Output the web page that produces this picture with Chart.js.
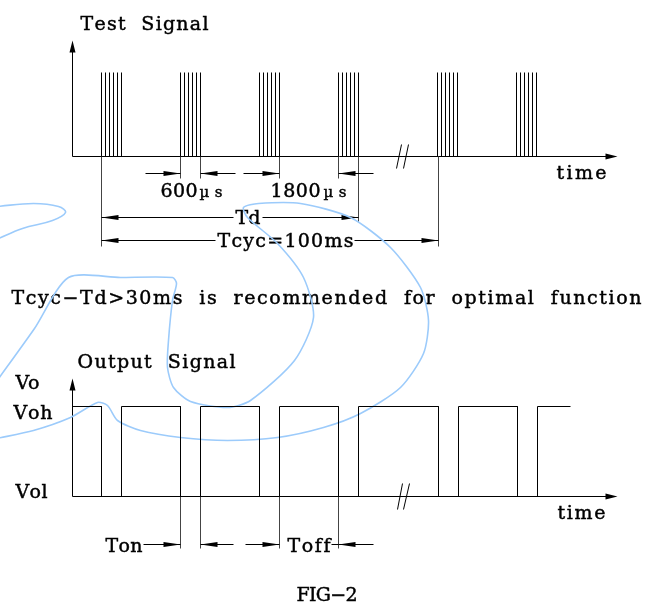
<!DOCTYPE html>
<html>
<head>
<meta charset="utf-8">
<title>FIG-2</title>
<style>
    body { margin: 0; padding: 0; background: #fff; }
    #wrap { width: 645px; height: 603px; }
</style>
<script src="https://cdn.jsdelivr.net/npm/chart.js"></script>
</head>
<body>
<div id="wrap"><canvas id="myChart"></canvas></div>
<script>
    // sheet units: x across, y down, same as the drawing
    const burstStarts = [101, 180, 259, 338, 437, 516];
    const pulseOffsets = [0, 4, 8, 12, 16, 20];
    const testBase = 156, testTop = 72;

    // output goes low during each burst
    const outLowSpans = [[101, 121], [180, 200], [259, 279], [338, 358], [438, 458], [517, 537]];
    const outStart = 72, outEnd = 570;
    const outHigh = 406, outLow = 496;

    // the blue pen marks on the scan
    const penA = [[-4, 206], [33, 203], [58, 206], [65, 212], [52, 220], [22, 228], [-4, 239]];
    const penB = [[-4, 438], [33, 430], [70, 417], [97, 402], [107, 405], [117, 420], [140, 430],
        [180, 437], [227, 440], [277, 437], [323, 427], [360, 413], [400, 387], [423, 353],
        [428, 320], [420, 287], [390, 247], [350, 217], [300, 203], [258, 203], [243, 207],
        [247, 217], [277, 243], [303, 277], [313, 317], [294, 360], [250, 400], [227, 407],
        [190, 401], [173, 387], [167, 367], [168, 340], [172, 300], [176, 283], [172, 277],
        [120, 277], [68, 277], [34, 328], [-4, 381]];

    function pulsePoints() {
        const pts = [];
        burstStarts.forEach(b => pulseOffsets.forEach(o => {
            pts.push({x: b + o, y: testBase}, {x: b + o, y: testTop}, {x: b + o, y: null});
        }));
        return pts;
    }

    function outputPoints() {
        const pts = [{x: outStart, y: outHigh}];
        outLowSpans.forEach(([f, r]) => {
            pts.push({x: f, y: outHigh}, {x: f, y: outLow}, {x: r, y: outLow}, {x: r, y: outHigh});
        });
        pts.push({x: outEnd, y: outHigh});
        return pts;
    }

    const toXY = arr => arr.map(([x, y]) => ({x, y}));

    // axes, dimension lines and lettering, drawn under the datasets
    const sheet = {
        id: 'sheet',
        beforeDatasetsDraw(chart) {
            const c = chart.ctx;
            const X = v => chart.scales.x.getPixelForValue(v);
            const Y = v => chart.scales.y.getPixelForValue(v);
            c.save();
            c.lineWidth = 1;
            c.fillStyle = '#000';

            const line = (x1, y1, x2, y2, col) => {
                c.strokeStyle = col || '#000';
                c.lineWidth = 1;
                c.beginPath();
                c.moveTo(X(x1), Y(y1));
                c.lineTo(X(x2), Y(y2));
                c.stroke();
            };
            // filled arrowhead, tip at (tx,ty), pointing along (dx,dy)
            const head = (tx, ty, dx, dy, len, half) => {
                const px = X(tx), py = Y(ty);
                c.beginPath();
                c.moveTo(px, py);
                c.lineTo(px - dx * len - dy * half, py - dy * len + dx * half);
                c.lineTo(px - dx * len + dy * half, py - dy * len - dx * half);
                c.closePath();
                c.fill();
            };
            const text = (s, x1, x2, base, size) => {
                c.font = size + 'px "DejaVu Serif"';
                c.textBaseline = 'alphabetic';
                c.strokeStyle = '#000';
                c.lineWidth = 0.45;
                const chars = [...s];
                const w = chars.map(ch => c.measureText(ch).width);
                const total = w.reduce((a, b) => a + b, 0);
                const gap = chars.length > 1 ? ((X(x2) - X(x1)) - total) / (chars.length - 1) : 0;
                let x = X(x1);
                chars.forEach((ch, i) => {
                    c.fillText(ch, x, Y(base));
                    c.strokeText(ch, x, Y(base));
                    x += w[i] + gap;
                });
            };

            // test signal axes
            line(72, testBase, 72, 50);
            head(72, 40, 0, -1, 12, 3);
            line(72, testBase, 606, testBase);
            head(617, testBase, 1, 0, 12, 3);
            line(396, 168, 401, 144);
            line(403, 168, 408, 144);

            // extension lines under the bursts
            [[101, 246], [180, 178], [200, 178], [279, 178], [338, 178], [358, 222], [438, 246]]
                .forEach(([x, y2]) => line(x, testBase, x, y2, '#444'));

            // 600us / 1800us arrows
            [[180, 145, 173], [200, 235, 173], [279, 243, 173], [338, 373, 173]].forEach(([tip, tail, y]) => {
                line(tail, y, tip, y);
                head(tip, y, tip > tail ? 1 : -1, 0, 17, 2.6);
            });
            // Td and Tcyc
            line(101, 217, 233, 217); line(262, 217, 358, 217);
            head(101, 217, -1, 0, 17, 2.6); head(358, 217, 1, 0, 17, 2.6);
            line(101, 240, 215, 240); line(354, 240, 438, 240);
            head(101, 240, -1, 0, 17, 2.6); head(438, 240, 1, 0, 17, 2.6);

            // output signal axes
            line(72, outLow, 72, 388);
            head(72, 378, 0, -1, 12, 3);
            line(72, outLow, 606, outLow);
            head(617, outLow, 1, 0, 12, 3);
            line(397, 509, 402, 483);
            line(403, 509, 409, 483);

            [180, 200, 279, 338].forEach(x => line(x, outLow, x, 548, '#444'));
            [[180, 143, 544], [200, 233, 544], [279, 245, 544], [338, 373, 544]].forEach(([tip, tail, y]) => {
                line(tail, y, tip, y);
                head(tip, y, tip > tail ? 1 : -1, 0, 17, 2.6);
            });
            line(331, 544, 338, 544);

            // lettering
            [
                ['Test  Signal', 80, 208, 29, 19],
                ['time', 556, 606, 178, 19],
                ['600', 160, 197, 196, 19],
                ['µs', 199, 222, 196, 15],
                ['1800', 270, 320, 196, 19],
                ['µs', 323, 346, 196, 15],
                ['Td', 235, 260, 223, 19],
                ['Tcyc=100ms', 217, 353, 246, 19],
                ['Tcyc−Td>30ms  is  recommended  for  optimal  function', 11, 641, 303, 19],
                ['Output  Signal', 77, 235, 367, 19],
                ['Vo', 15, 39, 388, 19],
                ['Voh', 13, 52, 418, 19],
                ['Vol', 15, 47, 497, 19],
                ['Ton', 105, 142, 551, 19],
                ['Toff', 287, 330, 551, 19],
                ['time', 557, 605, 518, 19],
                ['FIG−2', 296, 357, 600, 19]
            ].forEach(([s, x1, x2, b, size]) => text(s, x1, x2, b, size));

            c.restore();
        }
    };

    const myChart = new Chart(document.getElementById('myChart'), {
        type: 'scatter',
        data: {
            datasets: [
                {data: pulsePoints(), showLine: true, borderColor: '#000', borderWidth: 1, pointRadius: 0, spanGaps: false},
                {data: outputPoints(), showLine: true, borderColor: '#000', borderWidth: 1, pointRadius: 0},
                {data: toXY(penA), showLine: true, borderColor: '#9ccbfb', borderWidth: 1.6, pointRadius: 0, tension: 0.4},
                {data: toXY(penB), showLine: true, borderColor: '#9ccbfb', borderWidth: 1.6, pointRadius: 0, tension: 0.25}
            ]
        },
        options: {
            responsive: true,
            maintainAspectRatio: false,
            animation: false,
            events: [],
            layout: {padding: 0},
            plugins: {legend: {display: false}, tooltip: {enabled: false}},
            scales: {
                x: {type: 'linear', min: -0.5, max: 644.5, display: false},
                y: {type: 'linear', min: -0.5, max: 602.5, reverse: true, display: false}
            }
        },
        plugins: [sheet]
    });
</script>
</body>
</html>
